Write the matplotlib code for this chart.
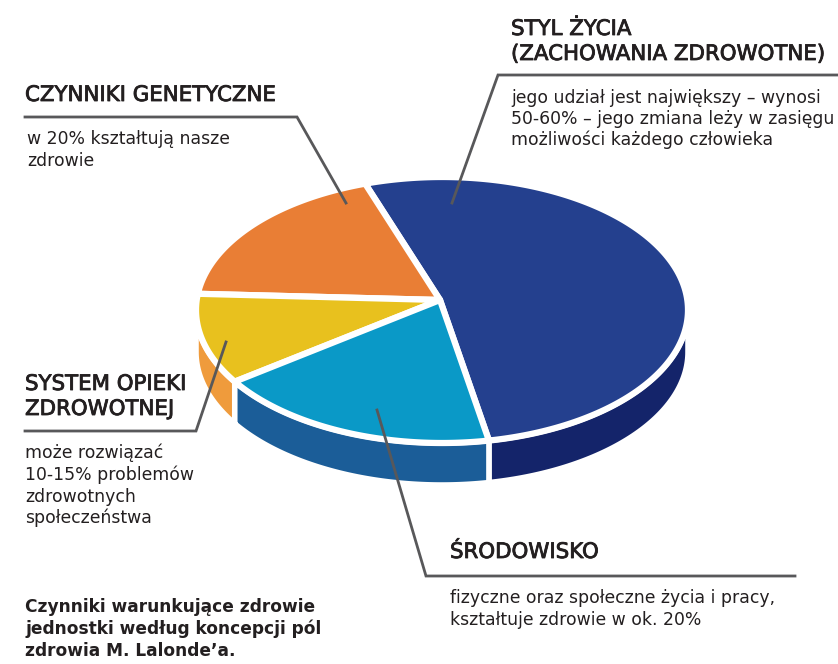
import numpy as np
import matplotlib
matplotlib.use("Agg")
import matplotlib.pyplot as plt
from matplotlib.patches import Polygon
import matplotlib.patheffects as pe

# ---- data ----
categories = ["STYL ŻYCIA", "CZYNNIKI GENETYCZNE", "SYSTEM OPIEKI ZDROWOTNEJ", "ŚRODOWISKO"]
values = [52, 18, 11, 19]
top_colors = ["#24408E", "#E97E35", "#E8C11E", "#0A99C7"]
side_colors = ["#14246A", "#E97E35", "#EF9B3C", "#1B5D98"]

head_lines = {
    "styl": ["STYL ŻYCIA", "(ZACHOWANIA ZDROWOTNE)"],
    "gen": ["CZYNNIKI GENETYCZNE"],
    "sys": ["SYSTEM OPIEKI", "ZDROWOTNEJ"],
    "sro": ["ŚRODOWISKO"],
}
body_lines = {
    "styl": ["jego udział jest największy – wynosi",
             "50-60% – jego zmiana leży w zasięgu",
             "możliwości każdego człowieka"],
    "gen": ["w 20% kształtują nasze", "zdrowie"],
    "sys": ["może rozwiązać", "10-15% problemów", "zdrowotnych", "społeczeństwa"],
    "sro": ["fizyczne oraz społeczne życia i pracy,", "kształtuje zdrowie w ok. 20%"],
}
caption_lines = ["Czynniki warunkujące zdrowie",
                 "jednostki według koncepcji pól",
                 "zdrowia M. Lalonde’a."]

# ---- figure ----
W, H = 838, 664
fig = plt.figure(figsize=(W / 100, H / 100), dpi=100)
ax = fig.add_axes([0, 0, 1, 1])
ax.set_xlim(0, W)
ax.set_ylim(H, 0)
ax.axis("off")

cx, cy, rx, ry = 442, 310, 246, 133
apex = (440, 300)
depth = 42
start = 281.0

fracs = np.array(values, dtype=float) / np.sum(values)
bounds = start + np.concatenate([[0], np.cumsum(fracs) * 360])

def pt(t, dy=0.0):
    r = np.radians(t)
    return cx + rx * np.cos(r), cy - ry * np.sin(r) + dy

# sides
for i in range(len(values)):
    a, b = bounds[i], bounds[i + 1]
    segs = []
    for off in (0, 360):
        lo, hi = max(a, 180 + off), min(b, 360 + off)
        if hi > lo:
            segs.append((lo, hi))
    for lo, hi in segs:
        ts = np.linspace(lo, hi, 80)
        top = [pt(t) for t in ts]
        bot = [pt(t, depth) for t in ts[::-1]]
        ax.add_patch(Polygon(top + bot, closed=True, facecolor=side_colors[i],
                             edgecolor="white", linewidth=4, joinstyle="miter", zorder=1))

# tops
for i in range(len(values)):
    a, b = bounds[i], bounds[i + 1]
    ts = np.linspace(a, b, 200)
    poly = [apex] + [pt(t) for t in ts]
    ax.add_patch(Polygon(poly, closed=True, facecolor=top_colors[i],
                         edgecolor="white", linewidth=4.5, joinstyle="round", zorder=2))

# leader lines
lc = "#58585A"
lw = 2
ax.plot([838, 498, 452], [75, 75, 203], color=lc, lw=lw, zorder=3, solid_joinstyle="miter")
ax.plot([25, 297, 346], [117, 117, 203], color=lc, lw=lw, zorder=3, solid_joinstyle="miter")
ax.plot([25, 196, 226], [431, 431, 342], color=lc, lw=lw, zorder=3, solid_joinstyle="miter")
ax.plot([795, 426, 377], [576, 576, 410], color=lc, lw=lw, zorder=3, solid_joinstyle="miter")

tc = "#231F20"
fam = ["DejaVu Sans"]
hs = 15.35
bs = 12.4
heavy = [pe.withStroke(linewidth=0.6, foreground=tc)]

def lines(x, ys, txts, size, weight="normal", effects=None):
    for y, t in zip(ys, txts):
        ax.text(x, y, t, fontsize=size, color=tc, family=fam, fontweight=weight,
                va="center", ha="left", zorder=4, path_effects=effects)

lines(511, [29, 54], head_lines["styl"], hs, effects=heavy)
lines(511, [98, 119, 140], body_lines["styl"], bs)
lines(25, [95], head_lines["gen"], hs, effects=heavy)
lines(27, [139, 161], body_lines["gen"], bs)
lines(25, [384, 409], head_lines["sys"], hs, effects=heavy)
lines(25, [453, 475, 497, 518], body_lines["sys"], bs)
lines(450, [552], head_lines["sro"], hs, effects=heavy)
lines(450, [598, 620], body_lines["sro"], bs)
lines(25, [607, 629, 651], caption_lines, 12.25, weight="bold")

fig.savefig("out.png", dpi=100)
